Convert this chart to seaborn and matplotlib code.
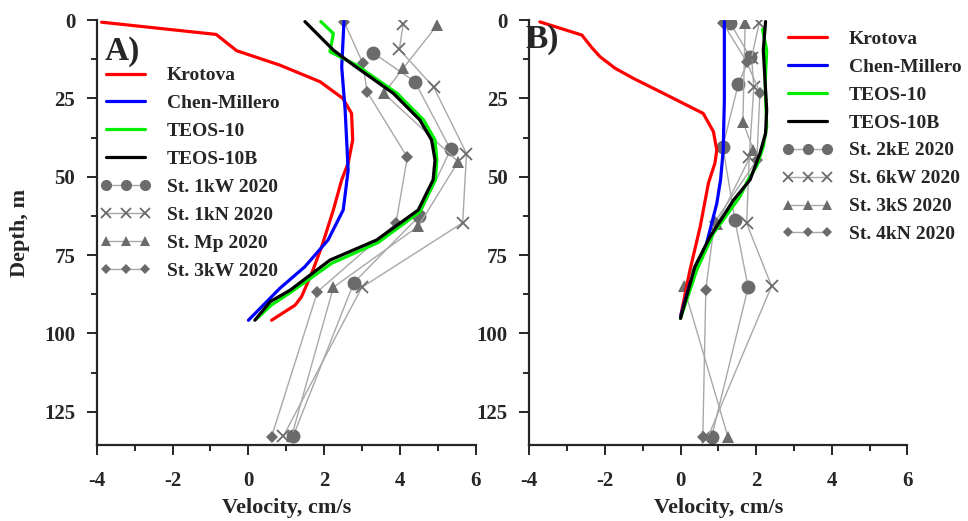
import numpy as np
import pandas as pd
import seaborn as sns
import matplotlib.pyplot as plt
from matplotlib.ticker import MultipleLocator

# ---------------- panel A ----------------
kro_a_v = [-3.87, -0.85, -0.31, 0.83, 1.89, 2.49, 2.72, 2.75, 2.63, 2.46, 2.24, 1.93, 1.67, 1.40, 1.23, 0.61]
kro_a_d = [0.7, 4.6, 9.8, 14.4, 19.7, 25.0, 29.8, 38.3, 45.7, 51.0, 60.6, 72.4, 80.8, 88.3, 91.0, 95.8]
cm_a_v = [2.52, 2.46, 2.55, 2.63, 2.50, 2.10, 1.49, 0.83, 0.0]
cm_a_d = [0.5, 15.0, 28.7, 48.0, 60.6, 70.2, 78.7, 85.6, 95.8]
teos_a_v = [1.91, 2.24, 2.15, 2.85, 3.92, 4.62, 4.92, 4.97, 4.93, 4.52, 3.42, 2.20, 1.10, 0.60, 0.20]
teos_a_d = [0.5, 4.3, 10.1, 14.4, 23.4, 31.9, 38.3, 44.7, 51.0, 61.2, 71.0, 77.6, 87.0, 91.0, 95.5]
teosb_a_v = [1.49, 2.24, 2.77, 3.82, 4.52, 4.83, 4.92, 4.87, 4.48, 3.38, 2.15, 1.10, 0.57, 0.17]
teosb_a_d = [0.5, 9.6, 14.4, 23.4, 31.9, 38.3, 44.7, 51.0, 60.6, 70.2, 76.6, 86.2, 89.9, 95.8]

kw1_v = [3.28, 4.39, 5.33, 4.50, 2.78, 1.18]
kw1_d = [10.4, 19.7, 41.3, 62.6, 83.8, 132.8]
kn1_v = [4.08, 3.98, 4.89, 5.75, 5.65, 2.99, 0.92]
kn1_d = [1.3, 9.4, 21.5, 42.6, 64.7, 85.3, 132.8]
mp_v = [4.98, 4.08, 3.57, 5.53, 4.48, 2.24, 1.14]
mp_d = [1.6, 15.4, 23.4, 45.2, 65.8, 85.3, 132.8]
kw3_v = [2.52, 3.01, 3.13, 4.19, 3.89, 1.82, 0.61]
kw3_d = [0.5, 13.6, 22.9, 43.8, 64.9, 86.7, 133.0]

# ---------------- panel B ----------------
kro_b_v = [-3.72, -2.61, -2.34, -2.13, -1.73, -1.25, -0.37, 0.60, 0.87, 0.96, 0.91, 0.74, 0.52, 0.25, 0.0]
kro_b_d = [0.6, 4.8, 8.9, 11.7, 15.4, 18.6, 23.9, 29.8, 35.6, 41.5, 45.7, 52.0, 66.0, 79.8, 94.7]
cm_b_v = [1.16, 1.16, 1.13, 1.06, 0.96, 0.69, 0.25, 0.0]
cm_b_d = [0.5, 25.5, 41.5, 51.0, 58.5, 71.3, 84.0, 94.7]
teos_b_v = [2.17, 2.22, 2.28, 2.24, 2.28, 2.19, 2.02, 1.79, 1.57, 0.87, 0.43, 0.0]
teos_b_d = [3.0, 6.0, 9.6, 20.2, 34.0, 40.4, 46.5, 51.0, 56.4, 68.1, 79.8, 95.2]
teosb_b_v = [2.25, 2.19, 2.24, 2.28, 2.25, 2.10, 1.84, 1.40, 0.78, 0.38, 0.0]
teosb_b_d = [0.5, 9.6, 20.2, 28.7, 36.2, 42.6, 51.0, 57.5, 69.2, 78.7, 95.2]

ke2_v = [1.31, 1.84, 1.53, 1.12, 1.44, 1.79, 0.82]
ke2_d = [0.9, 11.7, 20.4, 40.4, 63.8, 85.3, 133.2]
kw6_v = [2.08, 1.88, 1.94, 1.82, 1.75, 2.41, 0.72]
kw6_d = [1.1, 12.0, 21.5, 43.6, 64.9, 84.9, 133.2]
ks3_v = [1.71, 1.65, 1.93, 0.96, 0.08, 1.26]
ks3_d = [1.1, 32.5, 41.5, 65.1, 84.9, 133.2]
kn4_v = [1.12, 1.75, 2.10, 2.02, 0.90, 0.67, 0.59]
kn4_d = [0.9, 13.3, 23.2, 44.7, 64.5, 86.0, 133.2]

models_a = [('Krotova', kro_a_v, kro_a_d, 'red'),
            ('Chen-Millero', cm_a_v, cm_a_d, 'blue'),
            ('TEOS-10', teos_a_v, teos_a_d, '#00ee00'),
            ('TEOS-10B', teosb_a_v, teosb_a_d, 'black')]
stations_a = [('St. 1kW 2020', kw1_v, kw1_d, 'o'),
              ('St. 1kN 2020', kn1_v, kn1_d, 'x'),
              ('St. Mp 2020', mp_v, mp_d, '^'),
              ('St. 3kW 2020', kw3_v, kw3_d, 'D')]
models_b = [('Krotova', kro_b_v, kro_b_d, 'red'),
            ('Chen-Millero', cm_b_v, cm_b_d, 'blue'),
            ('TEOS-10', teos_b_v, teos_b_d, '#00ee00'),
            ('TEOS-10B', teosb_b_v, teosb_b_d, 'black')]
stations_b = [('St. 2kE 2020', ke2_v, ke2_d, 'o'),
              ('St. 6kW 2020', kw6_v, kw6_d, 'x'),
              ('St. 3kS 2020', ks3_v, ks3_d, '^'),
              ('St. 4kN 2020', kn4_v, kn4_d, 'D')]

sns.set_style('ticks')
plt.rcParams['font.family'] = ['Liberation Serif', 'DejaVu Serif']
plt.rcParams['font.weight'] = 'bold'
plt.rcParams['axes.labelweight'] = 'bold'
plt.rcParams['axes.unicode_minus'] = False

mk_col = '#6b6b6b'
ln_col = '#a8a8a8'
msize = {'o': 10, 'x': 9, '^': 9, 'D': 6.5}

fig = plt.figure(figsize=(9.68, 5.21), dpi=100)
ax1 = fig.add_axes([0.0999, 0.1459, 0.3918, 0.8157])
ax2 = fig.add_axes([0.5468, 0.1459, 0.3905, 0.8157])


def draw(ax, models, stations):
    for name, v, d, c in models:
        sns.lineplot(x=v, y=d, sort=False, estimator=None, color=c, lw=2.3,
                     label=name, ax=ax, zorder=3)
    for name, v, d, m in stations:
        sns.lineplot(x=v, y=d, sort=False, estimator=None, color=ln_col, lw=1.0,
                     marker=m, markersize=msize[m], markerfacecolor=mk_col,
                     markeredgecolor=mk_col, markeredgewidth=1.3 if m == 'x' else 0,
                     label=name, ax=ax, zorder=2)
    ax.set_xlim(-4, 6)
    ax.set_ylim(135.6, 0)
    ax.xaxis.set_major_locator(MultipleLocator(2))
    ax.xaxis.set_minor_locator(MultipleLocator(1))
    ax.yaxis.set_major_locator(MultipleLocator(25))
    ax.yaxis.set_minor_locator(MultipleLocator(12.5))
    ax.tick_params(which='major', length=7.5, width=1.4, labelsize=15)
    ax.tick_params(axis='x', which='major', pad=11)
    ax.tick_params(axis='y', which='major', pad=8)
    ax.tick_params(which='minor', length=4.5, width=1.4)
    for s in ['left', 'bottom']:
        ax.spines[s].set_linewidth(1.6)
    sns.despine(ax=ax)
    ax.set_xlabel('Velocity, cm/s', fontsize=16, fontweight='bold', labelpad=5)


draw(ax1, models_a, stations_a)
draw(ax2, models_b, stations_b)

ax1.set_ylabel('Depth, m', fontsize=16, fontweight='bold', labelpad=10)
ax2.set_ylabel('')

ax1.legend(loc='upper left', bbox_to_anchor=(0.01, 0.89), frameon=False, fontsize=14,
           numpoints=3, markerscale=0.8, handlelength=2.6, labelspacing=0.53,
           borderaxespad=0, borderpad=0)
ax2.legend(loc='upper left', bbox_to_anchor=(0.67, 0.976), frameon=False, fontsize=14,
           numpoints=3, markerscale=0.8, handlelength=2.6, labelspacing=0.53,
           borderaxespad=0, borderpad=0)

ax1.text(0.02, 0.962, 'A)', transform=ax1.transAxes, fontsize=24, fontweight='bold', va='top')
ax2.text(-0.01, 0.99, 'B)', transform=ax2.transAxes, fontsize=24, fontweight='bold', va='top')

fig.savefig('out.png', dpi=100)
